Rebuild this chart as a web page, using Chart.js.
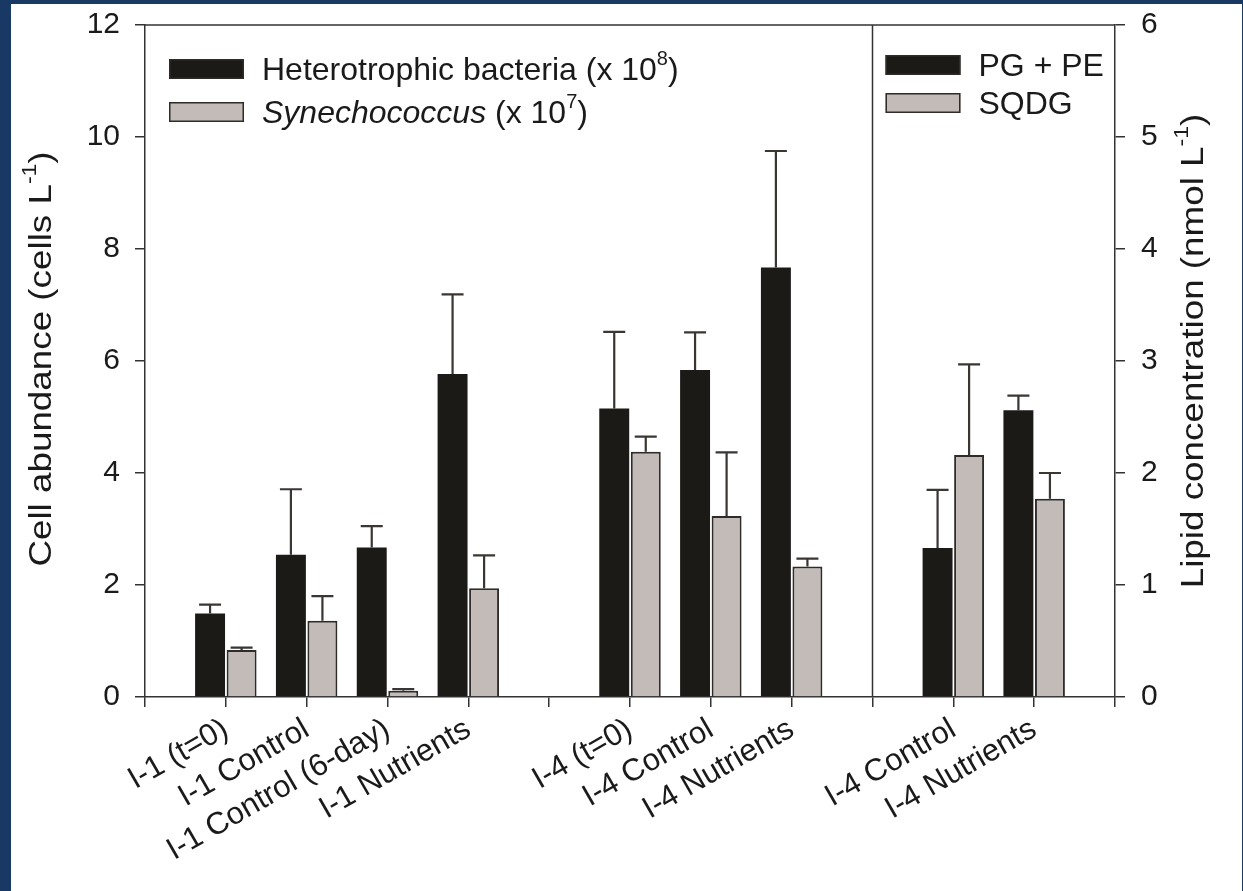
<!DOCTYPE html>
<html lang="en">
<head>
<meta charset="UTF-8">
<title>Cell abundance and lipid concentration</title>
<script src="https://cdn.jsdelivr.net/npm/chart.js"></script>
<style>
    html, body { margin: 0; padding: 0; background: #173964; }
    #wrap { position: absolute; left: 11px; top: 4px; width: 1231px; height: 887px; background: #fff; }
</style>
</head>
<body>
<div id="wrap"><canvas id="chart" width="1231" height="887"></canvas></div>
<script>
// categories (empty ones are the gaps between groups)
const categories = ['', 'I-1 (t=0)', 'I-1 Control', 'I-1 Control (6-day)', 'I-1 Nutrients', '',
    'I-4 (t=0)', 'I-4 Control', 'I-4 Nutrients', '', 'I-4 Control', 'I-4 Nutrients', ''];

// left axis: cell abundance
const bacteria    = [null, 1.49, 2.54, 2.67, 5.77, null, 5.15, 5.84, 7.67, null, null, null, null];
const bacteriaErr = [null, 0.16, 1.17, 0.38, 1.42, null, 1.37, 0.67, 2.08, null, null, null, null];
const synecho     = [null, 0.84, 1.36, 0.11, 1.94, null, 4.38, 3.23, 2.33, null, null, null, null];
const synechoErr  = [null, 0.04, 0.44, 0.03, 0.59, null, 0.27, 1.14, 0.14, null, null, null, null];

// right axis: lipid concentration
const pgpe    = [null, null, null, null, null, null, null, null, null, null, 1.33, 2.56, null];
const pgpeErr = [null, null, null, null, null, null, null, null, null, null, 0.52, 0.13, null];
const sqdg    = [null, null, null, null, null, null, null, null, null, null, 2.16, 1.77, null];
const sqdgErr = [null, null, null, null, null, null, null, null, null, null, 0.81, 0.23, null];

const leftTicks = [0, 2, 4, 6, 8, 10, 12];
const rightTicks = [0, 1, 2, 3, 4, 5, 6];

const leftTitle = [{t: 'Cell abundance (cells L'}, {t: '-1', sup: true}, {t: ')'}];
const rightTitle = [{t: 'Lipid concentration (nmol L'}, {t: '-1', sup: true}, {t: ')'}];
const bacteriaName = [{t: 'Heterotrophic bacteria (x 10'}, {t: '8', sup: true}, {t: ')'}];
const synechoName = [{t: 'Synechococcus', italic: true}, {t: ' (x 10'}, {t: '7', sup: true}, {t: ')'}];
const pgpeName = [{t: 'PG + PE'}];
const sqdgName = [{t: 'SQDG'}];

const errorSets = [bacteriaErr, synechoErr, pgpeErr, sqdgErr];

const FONT = '"Liberation Sans", Arial, sans-serif';
const BLACK = '#1c1a17';
const GREY = '#c3bbb7';
const EDGE = '#2e2b29';
const AXIS = '#333';
const TEXT = '#1a1a1a';

function partFont(p, size) {
    const s = p.sup ? Math.round(size * 0.62) : size;
    return (p.italic ? 'italic ' : '') + s + 'px ' + FONT;
}
function richWidth(ctx, parts, size) {
    let w = 0;
    parts.forEach(p => { ctx.font = partFont(p, size); w += ctx.measureText(p.t).width; });
    return w;
}
function drawRich(ctx, parts, x, y, size) {
    ctx.textAlign = 'left';
    ctx.textBaseline = 'middle';
    parts.forEach(p => {
        ctx.font = partFont(p, size);
        ctx.fillText(p.t, x, p.sup ? y - size * 0.36 : y);
        x += ctx.measureText(p.t).width;
    });
}

const errorBars = {
    id: 'errorBars',
    afterDatasetsDraw(chart) {
        const ctx = chart.ctx;
        ctx.save();
        ctx.strokeStyle = '#3a3634';
        ctx.lineWidth = 2.2;
        chart.data.datasets.forEach((ds, di) => {
            const meta = chart.getDatasetMeta(di);
            const scale = chart.scales[ds.yAxisID];
            errorSets[di].forEach((e, i) => {
                const v = ds.data[i];
                if (v == null || e == null) return;
                const bar = meta.data[i];
                const top = scale.getPixelForValue(v + e);
                ctx.beginPath();
                ctx.moveTo(bar.x, bar.y);
                ctx.lineTo(bar.x, top);
                ctx.moveTo(bar.x - 11, top);
                ctx.lineTo(bar.x + 11, top);
                ctx.stroke();
            });
        });
        ctx.restore();
    }
};

const decorations = {
    id: 'decorations',
    afterDraw(chart) {
        const ctx = chart.ctx;
        const a = chart.chartArea;
        const x = chart.scales.x;
        ctx.save();
        // frame top and divider between cell and lipid panels
        ctx.strokeStyle = AXIS;
        ctx.lineWidth = 1.5;
        ctx.beginPath();
        ctx.moveTo(a.left, a.top);
        ctx.lineTo(a.right, a.top);
        const dx = x.getPixelForValue(9);
        ctx.moveTo(dx, a.top);
        ctx.lineTo(dx, a.bottom);
        ctx.stroke();

        ctx.fillStyle = TEXT;
        // axis titles
        const mid = (a.top + a.bottom) / 2;
        [[leftTitle, 31, mid - 2], [rightTitle, 1183, mid - 10]].forEach(([parts, cx, cy]) => {
            ctx.save();
            ctx.translate(cx, cy);
            ctx.rotate(-Math.PI / 2);
            ctx.scale(1.15, 1);
            const w = richWidth(ctx, parts, 32);
            drawRich(ctx, parts, -w / 2, 0, 32);
            ctx.restore();
        });

        // legends
        const items = [
            [bacteriaName, BLACK, a.left + 24, a.top + 34],
            [synechoName, GREY, a.left + 24, a.top + 77],
            [pgpeName, BLACK, dx + 13, a.top + 30],
            [sqdgName, GREY, dx + 13, a.top + 68]
        ];
        items.forEach(([parts, col, lx, ly]) => {
            ctx.fillStyle = col;
            ctx.fillRect(lx, ly, 75, 20);
            ctx.strokeStyle = EDGE;
            ctx.lineWidth = 1.5;
            ctx.strokeRect(lx + 0.75, ly + 0.75, 73.5, 18.5);
            ctx.fillStyle = TEXT;
            drawRich(ctx, parts, lx + 93, ly + 12, 32);
        });
        ctx.restore();
    }
};

const barStyle = {
    barPercentage: 0.95,
    categoryPercentage: 0.78,
    skipNull: true
};

new Chart(document.getElementById('chart'), {
    type: 'bar',
    data: {
        labels: categories,
        datasets: [
            Object.assign({label: 'Heterotrophic bacteria (x 10^8)', data: bacteria, yAxisID: 'y',
                backgroundColor: BLACK, borderColor: BLACK, borderWidth: 0}, barStyle),
            Object.assign({label: 'Synechococcus (x 10^7)', data: synecho, yAxisID: 'y',
                backgroundColor: GREY, borderColor: EDGE, borderWidth: 2}, barStyle),
            Object.assign({label: 'PG + PE', data: pgpe, yAxisID: 'y2',
                backgroundColor: BLACK, borderColor: BLACK, borderWidth: 0}, barStyle),
            Object.assign({label: 'SQDG', data: sqdg, yAxisID: 'y2',
                backgroundColor: GREY, borderColor: EDGE, borderWidth: 2}, barStyle)
        ]
    },
    options: {
        responsive: false,
        animation: false,
        layout: {padding: {top: 21, left: 0, right: 0, bottom: 0}},
        plugins: {legend: {display: false}, tooltip: {enabled: false}},
        scales: {
            x: {
                type: 'category',
                offset: false,
                grid: {offset: false, drawOnChartArea: false, drawTicks: true, tickLength: 10, color: AXIS, lineWidth: 1.5},
                border: {display: true, color: AXIS, width: 1.5},
                ticks: {autoSkip: false, minRotation: 30, maxRotation: 30, padding: 4,
                    color: TEXT, font: {family: FONT, size: 31}},
                afterFit(s) { s.height = 194; }
            },
            y: {
                position: 'left',
                min: 0, max: 12,
                afterBuildTicks(s) { s.ticks = leftTicks.map(v => ({value: v})); },
                grid: {drawOnChartArea: false, drawTicks: true, tickLength: 10, color: AXIS, lineWidth: 1.5},
                border: {display: true, color: AXIS, width: 1.5},
                ticks: {padding: 15, color: TEXT, font: {family: FONT, size: 30}},
                afterFit(s) { s.width = 134; s.paddingTop = 0; s.paddingBottom = 0; }
            },
            y2: {
                position: 'right',
                min: 0, max: 6,
                afterBuildTicks(s) { s.ticks = rightTicks.map(v => ({value: v})); },
                grid: {drawOnChartArea: false, drawTicks: true, tickLength: 10, color: AXIS, lineWidth: 1.5},
                border: {display: true, color: AXIS, width: 1.5},
                ticks: {padding: 16, color: TEXT, font: {family: FONT, size: 30}},
                afterFit(s) { s.width = 127; s.paddingTop = 0; s.paddingBottom = 0; }
            }
        }
    },
    plugins: [errorBars, decorations]
});
</script>
</body>
</html>
